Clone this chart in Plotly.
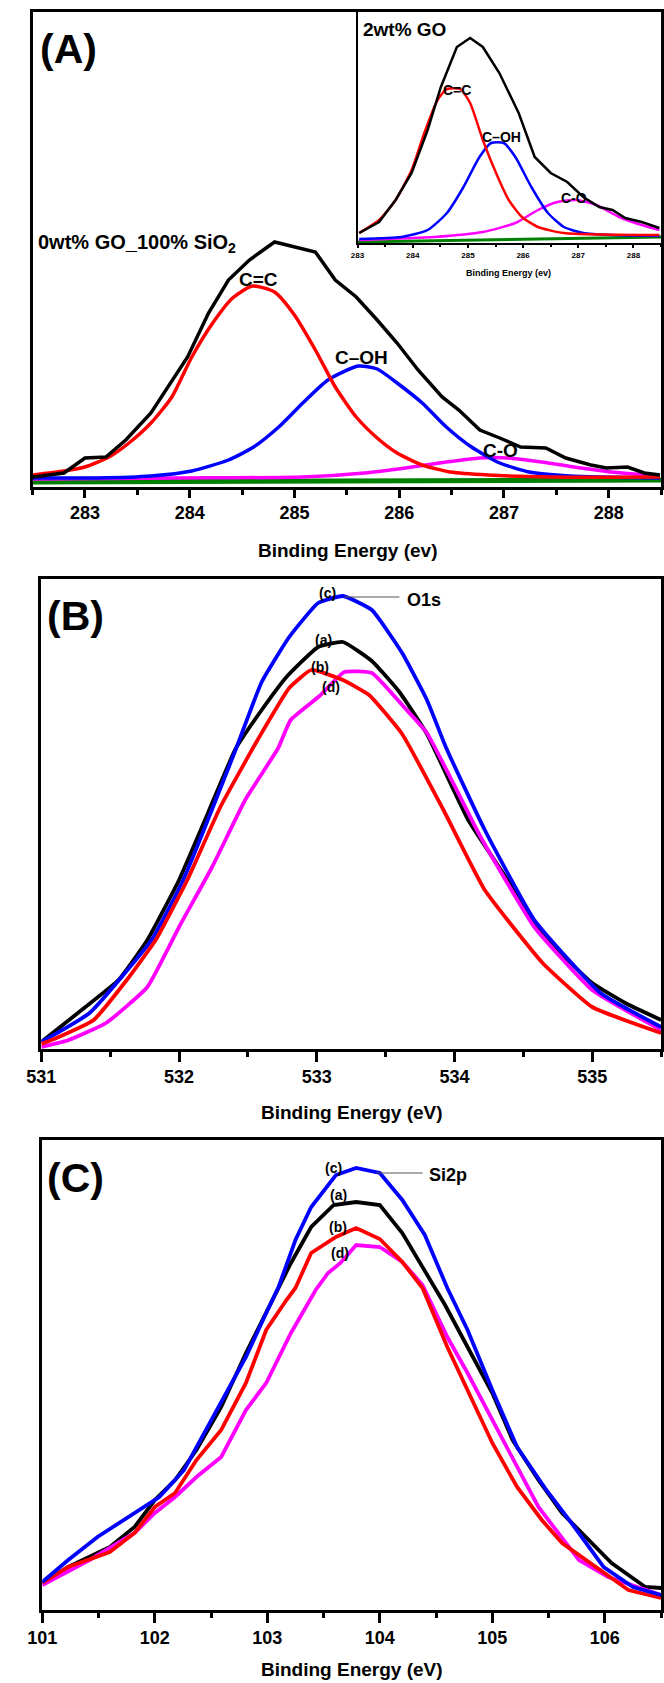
import plotly.graph_objects as go

# ---------------- DATA ----------------
# Panel A (main, 0wt% GO_100% SiO2) - C1s
A_black_x = [282.50, 282.80, 283.00, 283.20, 283.39, 283.63, 283.98, 284.18, 284.37, 284.57, 284.81, 285.00, 285.20, 285.39, 285.59, 285.79, 285.98, 286.18, 286.41, 286.57, 286.77, 286.96, 287.16, 287.40, 287.59, 287.83, 287.98, 288.18, 288.34, 288.49]
A_black_y = [0.05, 0.09, 0.24, 0.25, 0.42, 0.69, 1.25, 1.69, 2.02, 2.22, 2.40, 2.35, 2.30, 2.02, 1.85, 1.62, 1.39, 1.12, 0.85, 0.72, 0.52, 0.44, 0.35, 0.34, 0.24, 0.17, 0.14, 0.15, 0.09, 0.07]
A_red_x = [282.50, 282.80, 283.00, 283.23, 283.42, 283.63, 283.83, 284.02, 284.22, 284.41, 284.60, 284.81, 285.00, 285.20, 285.39, 285.59, 285.79, 285.98, 286.22, 286.49, 286.85, 287.44, 288.49]
A_red_y = [0.07, 0.11, 0.15, 0.25, 0.39, 0.59, 0.85, 1.25, 1.59, 1.84, 1.96, 1.90, 1.67, 1.32, 0.95, 0.65, 0.44, 0.29, 0.17, 0.10, 0.07, 0.05, 0.05]
A_blue_x = [282.50, 283.12, 283.63, 284.02, 284.37, 284.61, 284.85, 285.08, 285.32, 285.61, 285.79, 285.98, 286.22, 286.45, 286.69, 286.96, 287.24, 287.63, 288.49]
A_blue_y = [0.04, 0.04, 0.06, 0.11, 0.22, 0.35, 0.55, 0.79, 1.02, 1.16, 1.13, 0.99, 0.79, 0.55, 0.35, 0.19, 0.10, 0.06, 0.04]
A_mag_x = [282.50, 283.90, 285.08, 285.67, 286.06, 286.45, 286.77, 287.04, 287.36, 287.67, 288.02, 288.49]
A_mag_y = [0.03, 0.04, 0.05, 0.09, 0.14, 0.20, 0.24, 0.24, 0.20, 0.15, 0.10, 0.06]
A_green_x = [282.5, 288.5]
A_green_y = [0.0, 0.02]

# Inset (2wt% GO)
I_black_x = [283.03, 283.39, 283.69, 283.98, 284.27, 284.51, 284.80, 285.04, 285.27, 285.57, 285.92, 286.21, 286.50, 286.80, 287.09, 287.38, 287.62, 287.85, 288.15, 288.47]
I_black_y = [0.07, 0.18, 0.40, 0.67, 1.10, 1.53, 1.93, 2.02, 1.93, 1.67, 1.27, 0.83, 0.67, 0.58, 0.43, 0.33, 0.30, 0.22, 0.18, 0.12]
I_red_x = [283.03, 283.39, 283.69, 283.98, 284.21, 284.45, 284.62, 284.86, 285.04, 285.27, 285.51, 285.74, 285.98, 286.27, 286.74, 288.47]
I_red_y = [0.07, 0.20, 0.40, 0.70, 1.07, 1.40, 1.51, 1.51, 1.37, 1.00, 0.67, 0.40, 0.23, 0.13, 0.07, 0.05]
I_blue_x = [283.03, 283.80, 284.27, 284.62, 284.92, 285.21, 285.42, 285.65, 285.86, 286.15, 286.45, 286.74, 287.09, 287.62, 288.47]
I_blue_y = [0.01, 0.03, 0.10, 0.27, 0.53, 0.83, 0.97, 0.97, 0.83, 0.53, 0.27, 0.13, 0.07, 0.05, 0.04]
I_mag_x = [283.03, 284.39, 285.27, 285.86, 286.27, 286.62, 286.97, 287.33, 287.74, 288.09, 288.47]
I_mag_y = [0.00, 0.03, 0.08, 0.17, 0.30, 0.38, 0.40, 0.35, 0.23, 0.16, 0.10]
I_green_x = [283.0, 288.5]
I_green_y = [-0.02, 0.03]

# Panel B - O1s
B_black_x = [531.00, 531.32, 531.56, 531.77, 532.00, 532.21, 532.41, 532.60, 532.78, 533.01, 533.19, 533.40, 533.60, 533.80, 534.10, 534.40, 534.61, 535.00, 535.24, 535.50]
B_black_y = [0.07, 0.42, 0.69, 1.09, 1.69, 2.36, 3.00, 3.39, 3.72, 4.02, 4.07, 3.88, 3.57, 3.15, 2.29, 1.66, 1.19, 0.66, 0.46, 0.29]
B_blue_x = [531.00, 531.35, 531.80, 532.03, 532.41, 532.60, 532.80, 533.01, 533.19, 533.40, 533.62, 533.80, 533.94, 534.22, 534.58, 535.06, 535.50]
B_blue_y = [0.07, 0.36, 1.09, 1.69, 2.99, 3.67, 4.12, 4.46, 4.53, 4.39, 3.96, 3.49, 3.01, 2.19, 1.29, 0.56, 0.22]
B_red_x = [531.00, 531.11, 531.38, 531.62, 531.83, 532.06, 532.30, 532.57, 532.80, 532.96, 533.19, 533.38, 533.62, 533.92, 534.22, 534.64, 535.00, 535.50]
B_red_y = [0.05, 0.11, 0.29, 0.69, 1.09, 1.69, 2.42, 3.09, 3.61, 3.79, 3.69, 3.54, 3.15, 2.39, 1.59, 0.86, 0.42, 0.16]
B_mag_x = [531.00, 531.20, 531.47, 531.77, 532.00, 532.24, 532.48, 532.72, 532.81, 533.02, 533.20, 533.40, 533.62, 533.80, 534.19, 534.58, 535.00, 535.50]
B_mag_y = [0.02, 0.09, 0.26, 0.62, 1.22, 1.82, 2.49, 3.01, 3.29, 3.53, 3.77, 3.76, 3.44, 3.16, 2.12, 1.22, 0.59, 0.19]

# Panel C - Si2p
C_black_x = [101.00, 101.23, 101.60, 101.82, 102.00, 102.18, 102.37, 102.59, 102.81, 102.99, 103.14, 103.21, 103.39, 103.59, 103.79, 104.00, 104.20, 104.40, 104.58, 104.78, 105.00, 105.18, 105.41, 105.62, 105.88, 106.06, 106.36, 106.50]
C_black_y = [0.27, 0.43, 0.63, 0.83, 1.10, 1.30, 1.60, 2.03, 2.57, 2.97, 3.30, 3.47, 3.83, 4.05, 4.08, 4.05, 3.77, 3.40, 3.05, 2.63, 2.17, 1.70, 1.30, 0.97, 0.67, 0.47, 0.23, 0.22]
C_blue_x = [101.00, 101.23, 101.49, 101.82, 102.04, 102.26, 102.59, 102.81, 102.99, 103.10, 103.25, 103.39, 103.61, 103.79, 104.00, 104.20, 104.40, 104.60, 104.78, 105.00, 105.22, 105.48, 105.73, 105.99, 106.25, 106.50]
C_blue_y = [0.28, 0.50, 0.73, 0.97, 1.13, 1.40, 2.07, 2.53, 2.97, 3.23, 3.70, 4.03, 4.35, 4.42, 4.37, 4.10, 3.75, 3.22, 2.80, 2.20, 1.63, 1.20, 0.83, 0.43, 0.23, 0.15]
C_red_x = [101.00, 101.23, 101.60, 101.82, 102.00, 102.18, 102.37, 102.59, 102.81, 102.99, 103.17, 103.25, 103.39, 103.61, 103.79, 104.00, 104.20, 104.38, 104.60, 104.78, 105.00, 105.22, 105.44, 105.62, 106.00, 106.21, 106.50]
C_red_y = [0.27, 0.43, 0.58, 0.77, 1.03, 1.17, 1.50, 1.80, 2.27, 2.80, 3.10, 3.22, 3.57, 3.73, 3.82, 3.71, 3.48, 3.22, 2.63, 2.20, 1.67, 1.23, 0.90, 0.67, 0.37, 0.20, 0.12]
C_mag_x = [101.00, 101.42, 101.82, 102.00, 102.18, 102.37, 102.59, 102.81, 102.99, 103.21, 103.43, 103.54, 103.65, 103.79, 104.00, 104.20, 104.38, 104.60, 104.78, 105.00, 105.41, 105.77, 106.03, 106.50]
C_mag_y = [0.25, 0.50, 0.77, 0.97, 1.13, 1.33, 1.53, 2.00, 2.27, 2.77, 3.20, 3.37, 3.47, 3.65, 3.63, 3.48, 3.25, 2.73, 2.37, 1.90, 1.03, 0.50, 0.33, 0.15]

A_ticks = [283, 284, 285, 286, 287, 288]
B_ticks = [531, 532, 533, 534, 535]
C_ticks = [101, 102, 103, 104, 105, 106]

# ---------------- STYLE ----------------
W, H = 664, 1683
FONT = "Liberation Sans, Arial, sans-serif"
BLACK, RED, BLUE, MAG, GREEN = "#000000", "#ff0000", "#0000ff", "#ff00ff", "#008000"


def px(x):
    return x / W


def py(y):
    return 1 - y / H


fig = go.Figure()


def add(x, y, color, xa, ya, width=3.5, shape="linear", smoothing=0.6):
    fig.add_trace(go.Scatter(x=x, y=y, mode="lines", xaxis=xa, yaxis=ya,
                             line=dict(color=color, width=width, shape=shape, smoothing=smoothing),
                             showlegend=False, hoverinfo="skip"))


# Panel A main
add(A_green_x, A_green_y, GREEN, "x", "y", width=5)
add(A_mag_x, A_mag_y, MAG, "x", "y", shape="spline")
add(A_blue_x, A_blue_y, BLUE, "x", "y", shape="spline")
add(A_red_x, A_red_y, RED, "x", "y", shape="spline")
add(A_black_x, A_black_y, BLACK, "x", "y")

# Inset
add(I_green_x, I_green_y, GREEN, "x4", "y4", width=3)
add(I_mag_x, I_mag_y, MAG, "x4", "y4", width=2.5, shape="spline")
add(I_blue_x, I_blue_y, BLUE, "x4", "y4", width=2.5, shape="spline")
add(I_red_x, I_red_y, RED, "x4", "y4", width=2.5, shape="spline")
add(I_black_x, I_black_y, BLACK, "x4", "y4", width=2.5)

# Panel B
add(B_black_x, B_black_y, BLACK, "x2", "y2", width=3.8, shape="spline", smoothing=0.4)
add(B_mag_x, B_mag_y, MAG, "x2", "y2", width=3.8, shape="spline", smoothing=0.4)
add(B_blue_x, B_blue_y, BLUE, "x2", "y2", width=3.8, shape="spline", smoothing=0.4)
add(B_red_x, B_red_y, RED, "x2", "y2", width=3.8, shape="spline", smoothing=0.4)

# Panel C
add(C_black_x, C_black_y, BLACK, "x3", "y3", width=3.8)
add(C_mag_x, C_mag_y, MAG, "x3", "y3", width=3.8)
add(C_red_x, C_red_y, RED, "x3", "y3", width=3.8)
add(C_blue_x, C_blue_y, BLUE, "x3", "y3", width=3.8)


def xaxis(domain, rng, ticks, anchor, fs=18, lw=2.5, tl=8, mtl=5, mirror=True):
    return dict(domain=domain, range=rng, anchor=anchor, tickvals=ticks,
                showline=True, linecolor="black", linewidth=lw, mirror=mirror,
                ticks="outside", ticklen=tl, tickwidth=lw, tickcolor="black",
                minor=dict(ticks="outside", ticklen=mtl, tickwidth=lw, tickcolor="black", dtick=0.5),
                showgrid=False, zeroline=False,
                tickfont=dict(family=FONT, size=fs, color="black", weight="bold"))


def yaxis(domain, rng, anchor, lw=2.5, mirror=True):
    return dict(domain=domain, range=rng, anchor=anchor, showline=True, linecolor="black",
                linewidth=lw, mirror=mirror, showticklabels=False, ticks="",
                showgrid=False, zeroline=False)


fig.update_layout(
    width=W, height=H, margin=dict(l=0, r=0, t=0, b=0),
    paper_bgcolor="white", plot_bgcolor="white",
    xaxis=xaxis([px(18), px(662)], [282.5, 288.5], A_ticks, "y"),
    yaxis=yaxis([py(487), py(12)], [-0.05, 4.70], "x"),
    xaxis2=xaxis([px(27), px(662)], [531, 535.5], B_ticks, "y2", tl=10),
    yaxis2=yaxis([py(1049), py(579)], [0, 4.70], "x2"),
    xaxis3=xaxis([px(28), px(662)], [101, 106.5], C_ticks, "y3", tl=10),
    yaxis3=yaxis([py(1610), py(1140)], [0, 4.70], "x3"),
    xaxis4=xaxis([px(351), px(662)], [283, 288.5], A_ticks, "y4", fs=8, lw=1.8, tl=3, mtl=2, mirror=False),
    yaxis4=yaxis([py(243), py(12)], [-0.03, 2.28], "x4", lw=1.8, mirror=False),
)


def ann(text, x, y, size, xref="paper", yref="paper", xanchor="center", yanchor="middle"):
    fig.add_annotation(text=text, x=x, y=y, xref=xref, yref=yref, showarrow=False,
                       xanchor=xanchor, yanchor=yanchor,
                       font=dict(family=FONT, size=size, color="black", weight="bold"))


# Panel letters
ann("(A)", px(55), py(49), 41)
ann("(B)", px(62), py(616), 41)
ann("(C)", px(62), py(1178), 41)

# Axis titles
ann("Binding Energy (ev)", px(341), py(551), 19)
ann("Binding Energy (eV)", px(345), py(1112), 19)
ann("Binding Energy (eV)", px(345), py(1669), 19)
ann("Binding Energy (ev)", px(506), py(273), 9)

# Panel A labels
ann("0wt% GO_100% SiO<sub>2</sub>", px(22), py(243), 20, xanchor="left")
ann("C=C", 284.66, 2.02, 19, "x", "y")
ann("C\u2013OH", 285.64, 1.24, 19, "x", "y")
ann("C-O", 286.97, 0.31, 19, "x", "y")

# Inset labels
ann("2wt% GO", px(355), py(29), 19, xanchor="left")
ann("C=C", 284.80, 1.50, 14, "x4", "y4")
ann("C\u2013OH", 285.60, 1.03, 14, "x4", "y4")
ann("C-O", 286.92, 0.42, 14, "x4", "y4")

# Panel B labels
ann("(c)", 533.08, 4.56, 14, "x2", "y2")
ann("(a)", 533.05, 4.09, 14, "x2", "y2")
ann("(b)", 533.02, 3.82, 14, "x2", "y2")
ann("(d)", 533.10, 3.62, 14, "x2", "y2")
ann("O1s", 533.64, 4.49, 18, "x2", "y2", xanchor="left")
fig.add_shape(type="line", xref="x2", yref="y2", x0=533.20, x1=533.60, y0=4.52, y1=4.52,
              line=dict(color="#555555", width=1.2))

# Panel C labels
ann("(c)", 103.59, 4.42, 14, "x3", "y3")
ann("(a)", 103.63, 4.15, 14, "x3", "y3")
ann("(b)", 103.63, 3.83, 14, "x3", "y3")
ann("(d)", 103.65, 3.57, 14, "x3", "y3")
ann("Si2p", 104.42, 4.35, 18, "x3", "y3", xanchor="left")
fig.add_shape(type="line", xref="x3", yref="y3", x0=103.97, x1=104.38, y0=4.37, y1=4.37,
              line=dict(color="#555555", width=1.2))

fig.write_html("out.html",
               config={"displayModeBar": False},
               post_script="document.body.style.margin='0px';document.body.style.overflow='hidden';")
